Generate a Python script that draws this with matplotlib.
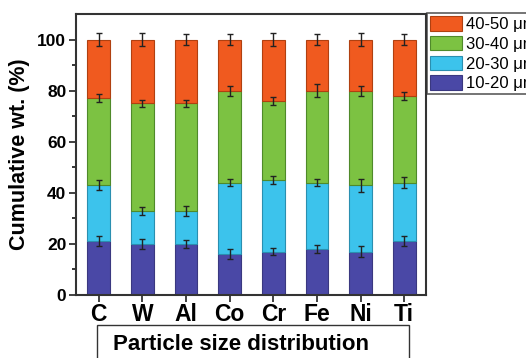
import matplotlib.pyplot as plt
import numpy as np
from matplotlib.patches import Rectangle

plt.rcParams["font.family"] = ["Liberation Sans", "DejaVu Sans"]

metals = ["C", "W", "Al", "Co", "Cr", "Fe", "Ni", "Ti"]
labels = ["10-20 μm", "20-30 μm", "30-40 μm", "40-50 μm"]

# cumulative wt.% at top of each size class
cum_10_20 = [21, 20, 20, 16, 17, 18, 17, 21]
cum_20_30 = [43, 33, 33, 44, 45, 44, 43, 44]
cum_30_40 = [77, 75, 75, 80, 76, 80, 80, 78]
cum_40_50 = [100, 100, 100, 100, 100, 100, 100, 100]

err_10_20 = [2.0, 2.0, 1.5, 2.0, 1.5, 1.5, 2.0, 2.0]
err_20_30 = [2.0, 1.5, 2.0, 1.5, 1.5, 1.5, 2.5, 2.0]
err_30_40 = [1.5, 1.5, 1.5, 2.0, 1.5, 2.5, 2.0, 1.5]
err_40_50 = [2.5, 2.5, 2.0, 2.0, 2.5, 2.0, 2.5, 2.0]

colors = ["#4a48a6", "#3cc3ec", "#7cc242", "#f05a1f"]
edges = ["#3a3880", "#2a8fb0", "#4f8a2a", "#b04010"]

cums = [cum_10_20, cum_20_30, cum_30_40, cum_40_50]
errs = [err_10_20, err_20_30, err_30_40, err_40_50]

fig = plt.figure(figsize=(5.26, 3.58), dpi=100)
ax = fig.add_axes([76 / 526, 1 - 295 / 358, 350 / 526, 281 / 358])

x = np.arange(1, len(metals) + 1)
width = 0.52
bottom = np.zeros(len(metals))
handles = []
for cum, err, c, ec, lab in zip(cums, errs, colors, edges, labels):
    cum = np.array(cum, dtype=float)
    h = ax.bar(x, cum - bottom, width, bottom=bottom, color=c, edgecolor=ec,
               linewidth=0.8, label=lab, zorder=2)
    handles.append(h)
    ax.errorbar(x, cum, yerr=err, fmt="none", ecolor="#222222",
                elinewidth=1.0, capsize=2.5, capthick=1.0, zorder=3)
    bottom = cum

ax.set_xlim(0.48, 8.5)
ax.set_ylim(0, 110)
ax.set_yticks([0, 20, 40, 60, 80, 100])
ax.set_yticks([10, 30, 50, 70, 90], minor=True)
ax.set_xticks(x)
ax.set_xticklabels(metals, fontsize=16.5, fontweight="bold")
for t in ax.get_yticklabels():
    t.set_fontweight("bold")
    t.set_fontsize(12.5)
ax.tick_params(axis="both", direction="out", width=1.3, color="#333333")
ax.tick_params(axis="y", which="major", length=5, pad=2)
ax.tick_params(axis="y", which="minor", length=3, width=1.1)
ax.tick_params(axis="x", length=5, pad=0.5)
for s in ax.spines.values():
    s.set_linewidth(1.5)
    s.set_color("#333333")
ax.set_ylabel("Cumulative wt. (%)", fontsize=15.5, fontweight="bold", labelpad=5)

leg = ax.legend(handles[::-1], labels[::-1], loc="upper left",
                bbox_to_anchor=(1.003, 1.003), fontsize=12, frameon=True,
                fancybox=False, edgecolor="#333333", borderpad=0.2,
                handlelength=1.9, handleheight=0.95, labelspacing=0.22,
                handletextpad=0.25, borderaxespad=0)
leg.get_frame().set_linewidth(1.2)

fig.patches.append(Rectangle((97 / 526, -0.05), 312 / 526, 1 - 325 / 358 + 0.05,
                             transform=fig.transFigure, facecolor="white",
                             edgecolor="#333333", linewidth=1.0))
fig.text(113 / 526, 1 - 344 / 358, "Particle size distribution", fontsize=16,
         fontweight="bold", va="center", ha="left")

fig.savefig("out.png", dpi=100)
